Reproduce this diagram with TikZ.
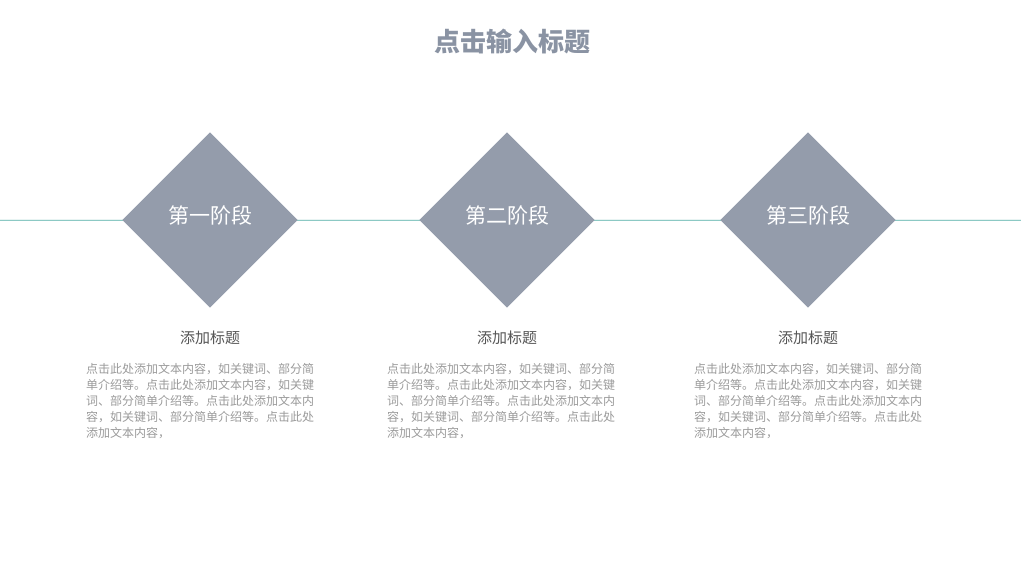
\documentclass[tikz,border=0pt]{standalone}
\usepackage{fontspec}
\newfontfamily\cjk{Noto Sans CJK SC}
\definecolor{dia}{HTML}{949CAB}
\definecolor{ttl}{HTML}{8A93A3}
\definecolor{ln}{HTML}{8CC9C4}
\definecolor{body}{HTML}{9A9A9A}
\definecolor{sub}{HTML}{555555}
\tikzset{
 stage/.style={fill=dia,minimum width=176pt,minimum height=176pt,shape=rectangle,rotate=45,inner sep=0pt},
 stagetxt/.style={text=white,font=\cjk\fontsize{21}{25}\selectfont},
 subttl/.style={text=sub,font=\cjk\fontsize{15}{18}\selectfont},
 bodytxt/.style={text=body,font=\cjk\fontsize{12}{16}\selectfont,align=left,anchor=north west,inner sep=0pt}
}
\begin{document}
\begin{tikzpicture}[x=1pt,y=-1pt]
\useasboundingbox (0,0) rectangle (1024,576);
\node[font=\cjk\bfseries\fontsize{26}{30}\selectfont,text=ttl] (title) at (512,42) {点击输入标题};
\coordinate (L) at (0,220);
\coordinate (R) at (1021,220);
\draw[ln,line width=2.2pt] (L) -- (R);
\draw[white!80!ln,line width=0.6pt] (0,219.5) -- (1021,219.5);
\foreach \x/\n/\t in {210/a/第一阶段,507/b/第二阶段,808/c/第三阶段}{
 \node[stage,minimum width=124pt,minimum height=124pt] (\n) at (\x,220) {};
 \node[stagetxt] (\n t) at (\x,215) {\t};
 \node[subttl] (\n s) at (\x,338) {添加标题};
}
\foreach \x/\n in {86/a,387/b,694/c}{
 \node[bodytxt] (\n b) at (\x,363) {点击此处添加文本内容，如关键词、部分简\\单介绍等。点击此处添加文本内容，如关键\\词、部分简单介绍等。点击此处添加文本内\\容，如关键词、部分简单介绍等。点击此处\\添加文本内容，};
}
\end{tikzpicture}
\end{document}
